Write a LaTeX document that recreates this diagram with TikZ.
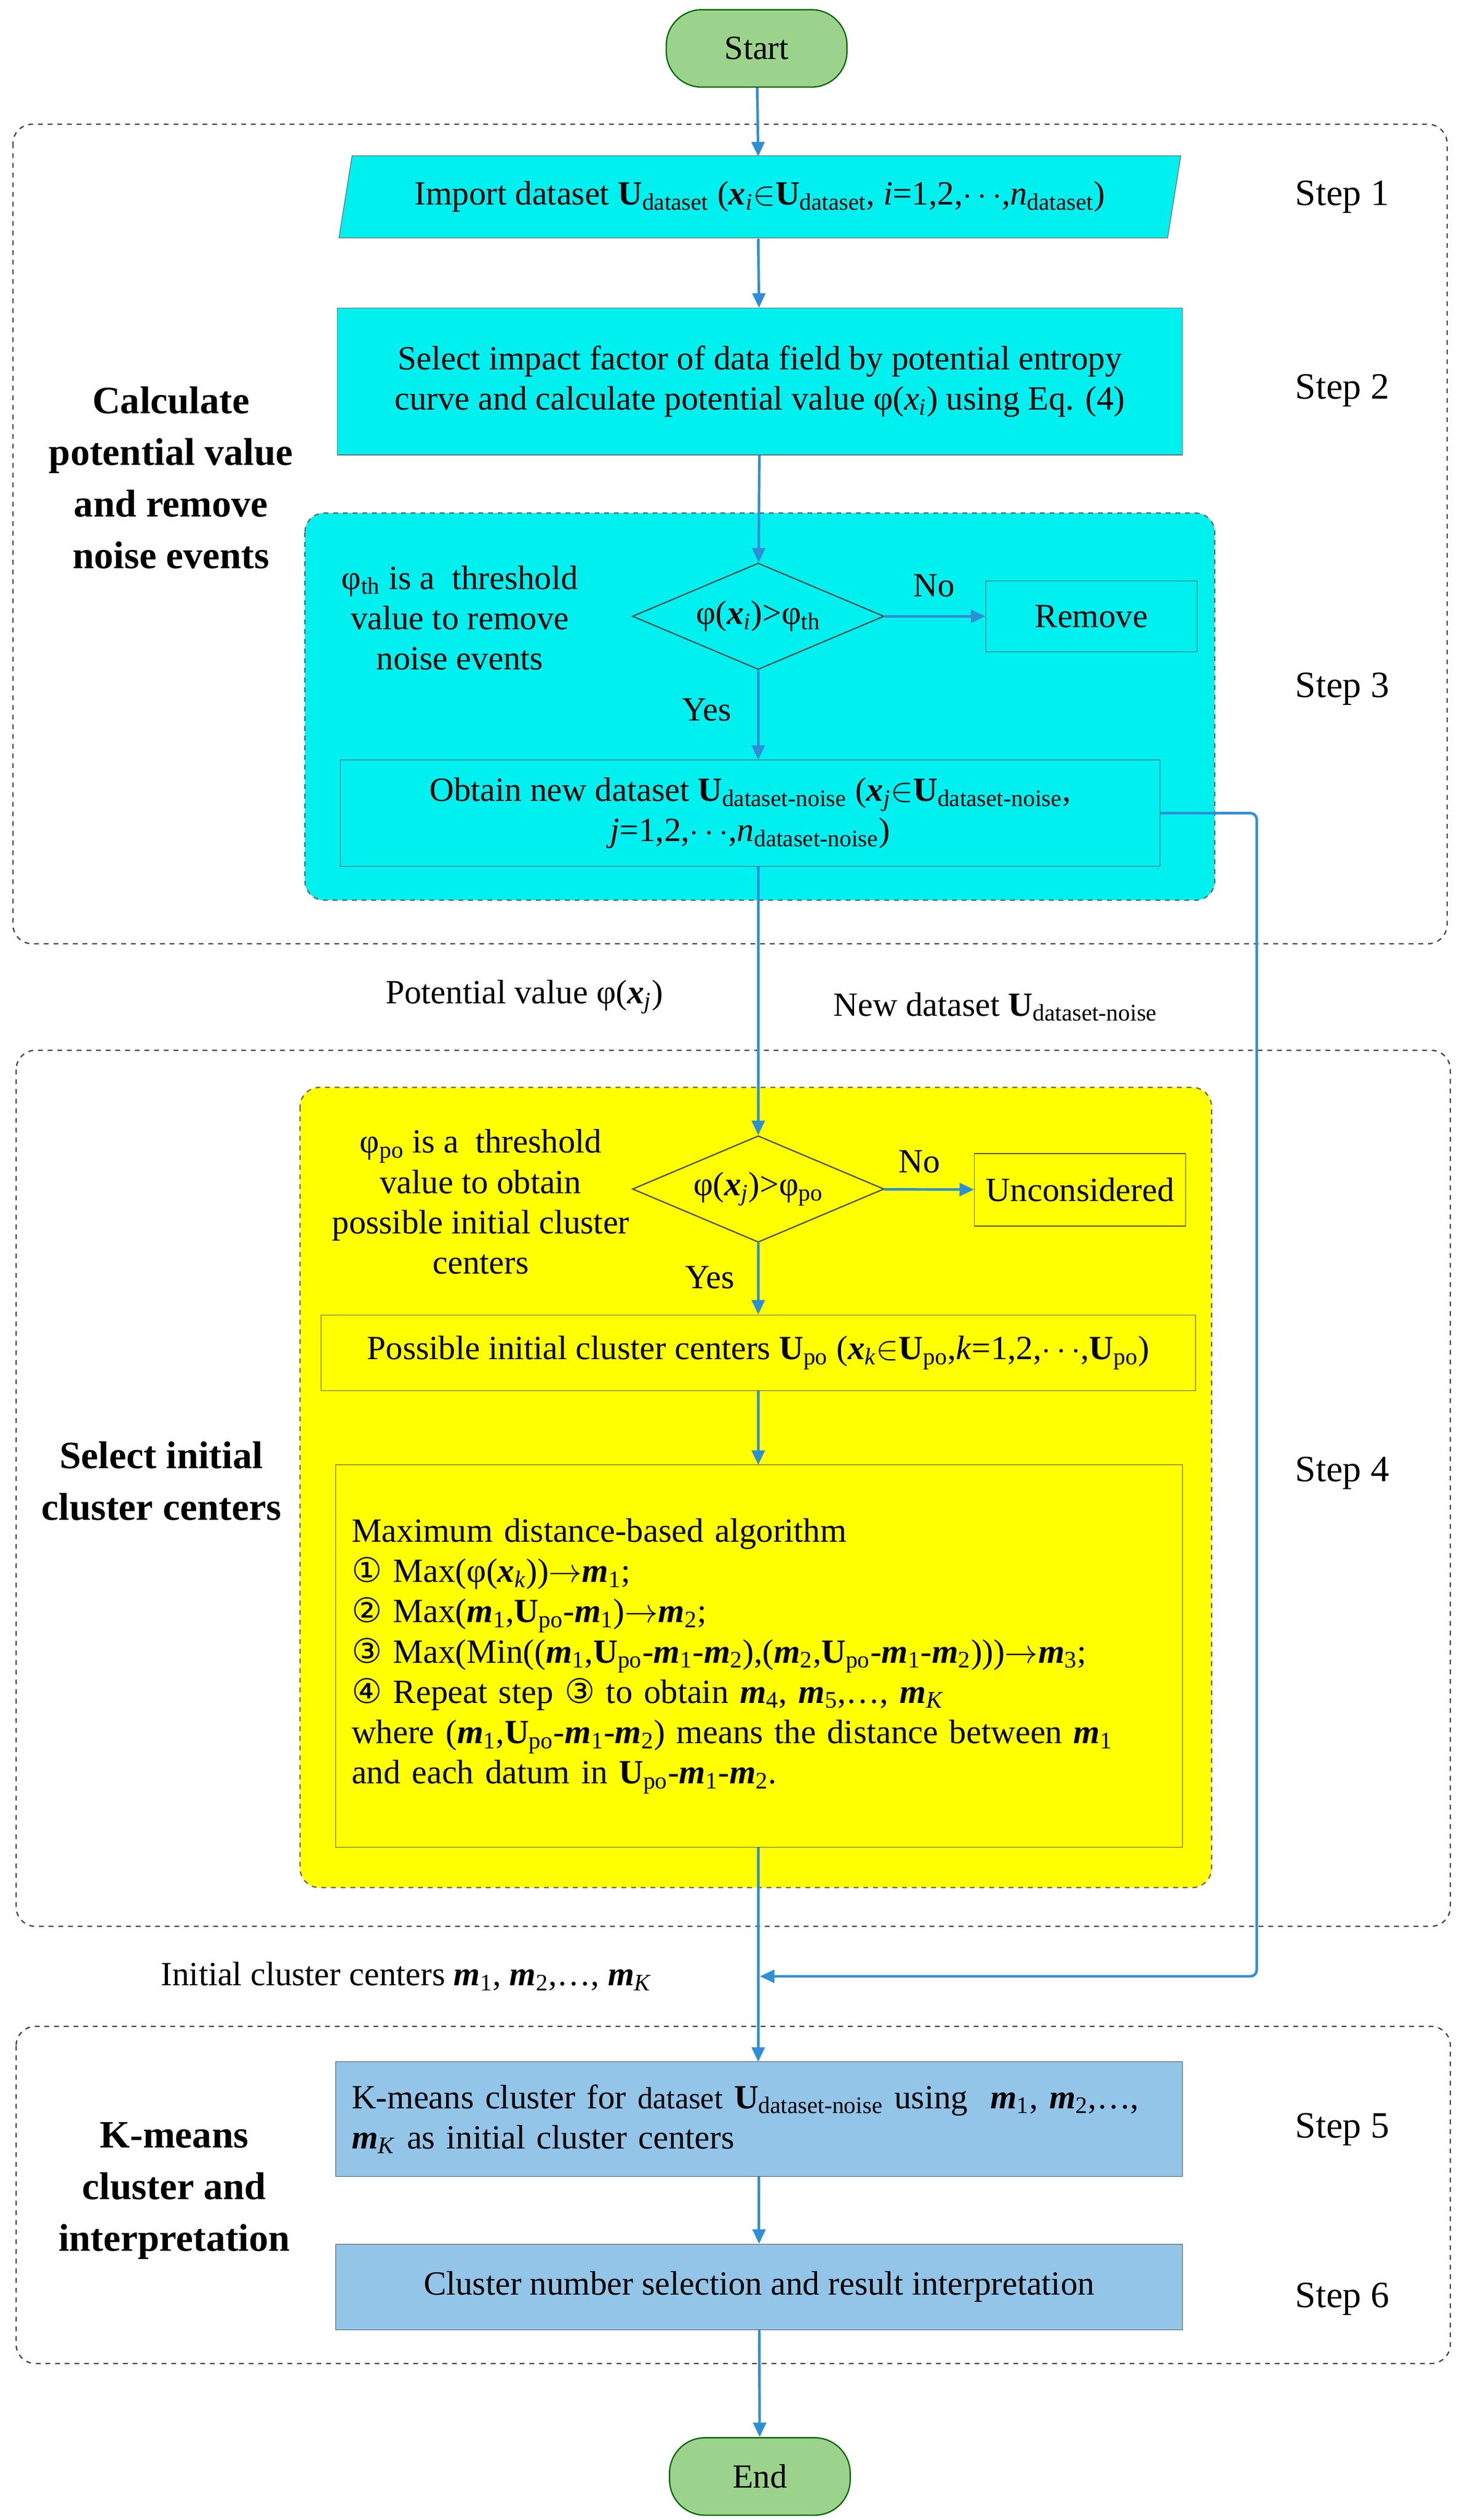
\documentclass[tikz,border=0pt]{standalone}
\usepackage{fontspec}
\setmainfont{Liberation Serif}
\newfontfamily\cnumfont{DejaVu Sans}
\usetikzlibrary{shapes.geometric,arrows.meta}
\newcommand{\bi}[1]{\textbf{\textit{#1}}}
\newcommand{\sub}[1]{\textsubscript{#1}}
\newcommand{\cn}[1]{{\cnumfont #1}}
\definecolor{arr}{HTML}{2E8FD6}
\definecolor{cy}{HTML}{00F0F0}
\definecolor{ye}{HTML}{FFFF00}
\definecolor{bl}{HTML}{92C5E8}
\definecolor{gr}{HTML}{9BD38C}
\begin{document}
\begin{tikzpicture}[x=1pt,y=-1pt,
  every node/.style={font=\fontsize{21}{25}\selectfont},
  term/.style={draw=green!40!black,fill=gr,rounded corners=22pt,minimum width=112pt,minimum height=48pt,line width=0.8pt},
  dbox/.style={draw=black!75,dashed,rounded corners=12pt,line width=0.8pt},
  dia/.style={diamond,draw=black!70,fill=#1,aspect=2.36,minimum width=156pt,minimum height=66pt,inner sep=0,line width=0.8pt},
  ar/.style={draw=arr,line width=1.6pt,-{Triangle[length=9pt,width=8pt]}},
  ln/.style={draw=arr,line width=1.6pt},
  stp/.style={font=\fontsize{23}{27}\selectfont},
  side/.style={font=\fontsize{24}{32}\selectfont\bfseries,align=center}]
\useasboundingbox (0,0) rectangle (908,1562);
% dashed groups
\draw[dbox] (8,77) rectangle (897,585);
\draw[dbox] (10,651) rectangle (899,1194);
\draw[dbox] (10,1256) rectangle (899,1465);
\draw[dashed,draw=black!60,fill=cy,rounded corners=12pt,line width=0.8pt] (189,318) rectangle (753,558);
\draw[dashed,draw=black!60,fill=ye,rounded corners=12pt,line width=0.8pt] (186,674) rectangle (751,1170);
% nodes
\node[term] (start) at (469,30) {Start};
\node[trapezium,trapezium left angle=70,trapezium right angle=110,draw=black!60,fill=cy,minimum width=523pt,minimum height=51pt,inner sep=0,trapezium stretches=true] (imp) at (471,122) {Import dataset \textbf{U}\sub{dataset} (\bi{x}\sub{\textit{i}}$\in$\textbf{U}\sub{dataset}, \textit{i}=1,2,$\cdots$,\textit{n}\sub{dataset})};
\node[draw=black!60,fill=cy,minimum width=524pt,minimum height=91pt,align=center] (sel) at (471,236.5) {Select impact factor of data field by potential entropy\\curve and calculate potential value φ(\textit{x\sub{i}}) using Eq. (4)};
\node[dia=cy] (d1) at (470,382) {φ(\bi{x}\sub{\textit{i}})>φ\sub{th}};
\node[draw=black!70,minimum width=131pt,minimum height=44pt] (rem) at (676.5,382) {Remove};
\node[draw=black!70,minimum width=508pt,minimum height=66pt,align=center] (obt) at (465,504) {Obtain new dataset \textbf{U}\sub{dataset-noise} (\bi{x}\sub{\textit{j}}$\in$\textbf{U}\sub{dataset-noise},\\\textit{j}=1,2,$\cdots$,\textit{n}\sub{dataset-noise})};
\node[align=center] (t1) at (285,383) {φ\sub{th} is a \ threshold\\value to remove\\noise events};
\node[dia=ye] (d2) at (470,737) {φ(\bi{x}\sub{\textit{j}})>φ\sub{po}};
\node[draw=black!70,minimum width=131pt,minimum height=45pt] (unc) at (669.5,737.5) {Unconsidered};
\node[align=center] (t2) at (298,745) {φ\sub{po} is a \ threshold\\value to obtain\\possible initial cluster\\centers};
\node[draw=black!70,minimum width=542pt,minimum height=47pt] (pos) at (470,838.5) {Possible initial cluster centers \textbf{U}\sub{po} (\bi{x}\sub{\textit{k}}$\in$\textbf{U}\sub{po},\textit{k}=1,2,$\cdots$,\textbf{U}\sub{po})};
\node[draw=black!70,minimum width=525pt,minimum height=237pt,align=left,text width=505pt] (alg) at (470.5,1026.5) {Maximum distance-based algorithm\\
\cn{①} Max(φ(\bi{x}\sub{\textit{k}}))$\rightarrow$\bi{m}\sub{1};\\
\cn{②} Max(\bi{m}\sub{1},\textbf{U}\sub{po}-\bi{m}\sub{1})$\rightarrow$\bi{m}\sub{2};\\
\cn{③} Max(Min((\bi{m}\sub{1},\textbf{U}\sub{po}-\bi{m}\sub{1}-\bi{m}\sub{2}),(\bi{m}\sub{2},\textbf{U}\sub{po}-\bi{m}\sub{1}-\bi{m}\sub{2})))$\rightarrow$\bi{m}\sub{3};\\
\cn{④} Repeat step \cn{③} to obtain \bi{m}\sub{4}, \bi{m}\sub{5},\dots, \bi{m}\sub{\textit{K}}\\
where (\bi{m}\sub{1},\textbf{U}\sub{po}-\bi{m}\sub{1}-\bi{m}\sub{2}) means the distance between \bi{m}\sub{1}\\
and each datum in \textbf{U}\sub{po}-\bi{m}\sub{1}-\bi{m}\sub{2}.};
\node[draw=black!70,fill=bl,minimum width=525pt,minimum height=71pt,align=left,text width=505pt] (km) at (470.5,1313.5) {K-means cluster for {\fontsize{19}{23}\selectfont dataset} \textbf{U}\sub{dataset-noise} using \ \bi{m}\sub{1}, \bi{m}\sub{2},\dots,\\\bi{m}\sub{\textit{K}} as initial cluster centers};
\node[draw=black!70,fill=bl,minimum width=525pt,minimum height=53pt] (cl) at (470.5,1417.5) {Cluster number selection and result interpretation};
\node[term] (end) at (471,1535) {End};
% labels
\node[stp] at (832,122) {Step 1};
\node[stp] at (832,242) {Step 2};
\node[stp] at (832,427) {Step 3};
\node[stp] at (832,913) {Step 4};
\node[stp] at (832,1320) {Step 5};
\node[stp] at (832,1425) {Step 6};
\node[side] at (106,296) {Calculate\\potential value\\and remove\\noise events};
\node[side] at (100,918) {Select initial\\cluster centers};
\node[side] at (108,1358) {K-means\\cluster and\\interpretation};
\node at (325,618) {Potential value φ(\bi{x}\sub{\textit{j}})};
\node at (617,624) {New dataset \textbf{U}\sub{dataset-noise}};
\node at (252,1225) {Initial cluster centers \bi{m}\sub{1}, \bi{m}\sub{2},\dots, \bi{m}\sub{\textit{K}}};
\node at (579,363) {No};
\node at (438,440) {Yes};
\node at (570,720) {No};
\node at (440,792) {Yes};
% connectors
\coordinate (c1) at (779,504);
\coordinate (c2) at (779,1225);
\coordinate (c3) at (471,1225);
\draw[ar] (start) -- (470,97);
\draw[ar] (470,148) -- (sel);
\draw[ar] (sel) -- (d1);
\draw[ar] (d1) -- (rem);
\draw[ar] (d1) -- (470,471);
\draw[ar] (470,537) -- (d2);
\draw[ar] (d2) -- (unc);
\draw[ar] (d2) -- (pos);
\draw[ar] (pos) -- (470,908);
\draw[ar] (470,1145) -- (470,1278);
\draw[ar,rounded corners=4pt] (obt.east) -- (c1) -- (c2) -- (c3);
\draw[ar] (km) -- (cl);
\draw[ar] (cl) -- (end);
\end{tikzpicture}
\end{document}
